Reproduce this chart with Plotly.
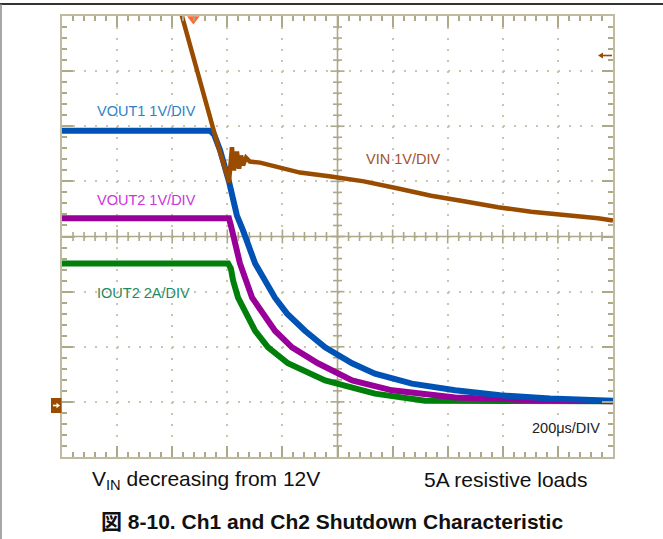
import plotly.graph_objects as go

# ---------------- data (time in µs, amplitude in screen divisions) ----------------
vout1_t = [0, 537, 552, 574, 606, 635, 657, 701, 773, 817, 882, 955, 1053, 1136, 1270, 1427, 1590, 1771, 2000]
vout1_y = [1.92, 1.92, 1.85, 1.56, 1.00, 0.38, 0.11, -0.49, -1.11, -1.40, -1.71, -2.01, -2.30, -2.49, -2.67, -2.79, -2.88, -2.94, -2.98]

vout2_t = [0, 606, 613, 646, 690, 773, 835, 929, 1053, 1198, 1427, 1662, 2000]
vout2_y = [0.33, 0.33, 0.20, -0.49, -1.11, -1.71, -2.01, -2.30, -2.61, -2.79, -2.92, -2.96, -2.99]

iout2_t = [0, 603, 613, 621, 639, 701, 748, 820, 955, 1136, 1318, 2000]
iout2_y = [-0.49, -0.49, -0.58, -0.80, -1.11, -1.71, -2.01, -2.30, -2.61, -2.85, -2.98, -2.99]

vin_t = [432, 501, 548, 566, 603, 606, 617, 624, 635, 643, 650, 657, 668, 682, 719, 791, 864,
         976, 1096, 1220, 1340, 1459, 1583, 1703, 1822, 1946, 2000]
vin_y = [4.06, 2.83, 1.92, 1.65, 1.05, 0.98, 1.62, 1.20, 1.54, 1.23, 1.47, 1.29, 1.43, 1.36, 1.34, 1.25, 1.16,
         1.09, 1.00, 0.87, 0.74, 0.64, 0.53, 0.45, 0.40, 0.33, 0.29]

channel_labels = ["VOUT1 1V/DIV", "VOUT2 1V/DIV", "VIN 1V/DIV", "IOUT2 2A/DIV"]
label_t = [120, 120, 1096, 120]
label_y = [2.27, 0.67, 1.415, -1.025]
timebase_label = "200μs/DIV"
caption_left = "V<sub>IN</sub> decreasing from 12V"
caption_right = "5A resistive loads"
title_text = "図 8-10. Ch1 and Ch2 Shutdown Characteristic"

trigger_time = 477
trigger_level = 3.27

# ---------------- styling ----------------
W, H = 663, 539
ML, MR, MT, MB = 62, 50, 16, 82
PLOT_W = W - ML - MR
PLOT_H = H - MT - MB
T_RANGE = [0, 2000]
Y_RANGE = [-4, 4]
px_t = PLOT_W / (T_RANGE[1] - T_RANGE[0])
px_y = PLOT_H / (Y_RANGE[1] - Y_RANGE[0])

FONT = "Liberation Sans, Arial, Noto Sans CJK JP, sans-serif"
TAN = "#BFBAA0"
TICK = "#ADA888"
DOT = "#C9C5AE"

C_VOUT1 = "#0052B4"
C_VOUT2 = "#990099"
C_IOUT2 = "#00800A"
C_VIN = "#994C00"
label_colors = ["#2E7FC6", "#CC33DD", "#A0522D", "#1F8A5F"]


def px_x(p):
    return (p - ML) / PLOT_W


def px_yp(p):
    return (H - MB - p) / PLOT_H


fig = go.Figure()

# centre cross with ticks (graticule decoration)
cx, cy = [], []
cx += [1000, 1000, None]; cy += [Y_RANGE[0], Y_RANGE[1], None]
cx += [T_RANGE[0], T_RANGE[1], None]; cy += [0, 0, None]
for k in range(1, 50):
    t = 40 * k
    h = (7 if k % 5 == 0 else 4.5) / px_y
    cx += [t, t, None]; cy += [-h, h, None]
for k in range(1, 40):
    v = -4 + 0.2 * k
    w = (7 if k % 5 == 0 else 4.5) / px_t
    cx += [1000 - w, 1000 + w, None]; cy += [v, v, None]
fig.add_trace(go.Scatter(x=cx, y=cy, mode="lines", line=dict(color=TICK, width=1.6),
                         hoverinfo="skip", showlegend=False))

# waveforms
fig.add_trace(go.Scatter(x=iout2_t, y=iout2_y, mode="lines", line=dict(color=C_IOUT2, width=6), showlegend=False))
fig.add_trace(go.Scatter(x=vout2_t, y=vout2_y, mode="lines", line=dict(color=C_VOUT2, width=6), showlegend=False))
fig.add_trace(go.Scatter(x=vout1_t, y=vout1_y, mode="lines", line=dict(color=C_VOUT1, width=6), showlegend=False))
fig.add_trace(go.Scatter(x=vin_t, y=vin_y, mode="lines", line=dict(color=C_VIN, width=4.5), showlegend=False))

# trigger position marker
fig.add_trace(go.Scatter(x=[trigger_time], y=[Y_RANGE[1] - 3 / px_y], mode="markers",
                         marker=dict(symbol="triangle-down", size=11, color="#FF6A33", line=dict(width=0)),
                         cliponaxis=False, showlegend=False, hoverinfo="skip"))

axis_common = dict(showline=True, linecolor=TAN, linewidth=2, mirror="allticks",
                   ticks="inside", ticklen=11, tickwidth=2, tickcolor=TICK,
                   showticklabels=False, zeroline=False,
                   showgrid=True, gridcolor=DOT, gridwidth=2, griddash="2px,9.02px")

fig.update_xaxes(range=T_RANGE, tick0=0, dtick=200,
                 minor=dict(ticks="inside", dtick=40, ticklen=5, tickwidth=2, tickcolor=TICK, showgrid=False),
                 **axis_common)
fig.update_yaxes(range=Y_RANGE, tick0=-4, dtick=1,
                 minor=dict(ticks="inside", dtick=0.2, ticklen=5, tickwidth=2, tickcolor=TICK, showgrid=False),
                 **axis_common)

annotations = []
for txt, t, y, col in zip(channel_labels, label_t, label_y, label_colors):
    annotations.append(dict(x=t, y=y, xref="x", yref="y", text=txt, showarrow=False,
                            xanchor="left", yanchor="middle", font=dict(family=FONT, size=14.5, color=col)))
annotations.append(dict(x=1699, y=-3.47, xref="x", yref="y", text=timebase_label, showarrow=False,
                        xanchor="left", yanchor="middle", font=dict(family=FONT, size=14.5, color="#222222")))
# captions
annotations.append(dict(x=px_x(206), y=px_yp(480), xref="paper", yref="paper",
                        text=caption_left, showarrow=False, xanchor="center", yanchor="middle",
                        font=dict(family=FONT, size=21, color="#111111")))
annotations.append(dict(x=px_x(505.5), y=px_yp(480), xref="paper", yref="paper",
                        text=caption_right, showarrow=False, xanchor="center", yanchor="middle",
                        font=dict(family=FONT, size=21, color="#111111")))
annotations.append(dict(x=px_x(332), y=px_yp(521.5), xref="paper", yref="paper",
                        text="<b>" + title_text + "</b>", showarrow=False, xanchor="center", yanchor="middle",
                        font=dict(family=FONT, size=21, color="#111111")))


def tri(x_tip, y_mid, dx, dy):
    # small triangle path in paper coords, tip at x_tip pointing in the sign of dx
    return (f"M {px_x(x_tip)},{px_yp(y_mid)} L {px_x(x_tip - dx)},{px_yp(y_mid - dy)} "
            f"L {px_x(x_tip - dx)},{px_yp(y_mid + dy)} Z")


shapes = [
    # page frame lines
    dict(type="line", xref="paper", yref="paper", x0=px_x(0), x1=px_x(W), y0=px_yp(4), y1=px_yp(4),
         line=dict(color="#333333", width=2)),
    dict(type="line", xref="paper", yref="paper", x0=px_x(1), x1=px_x(1), y0=px_yp(4), y1=px_yp(H),
         line=dict(color="#8A8A8A", width=1.5)),
    # channel ground marker
    dict(type="rect", xref="paper", yref="paper", x0=px_x(51), x1=px_x(61.5), y0=px_yp(413), y1=px_yp(398),
         fillcolor=C_VIN, line=dict(width=0)),
    dict(type="line", xref="paper", yref="paper", x0=px_x(53), x1=px_x(57), y0=px_yp(405.5), y1=px_yp(405.5),
         line=dict(color="white", width=1.6)),
    dict(type="path", xref="paper", yref="paper", path=tri(60, 405.5, 3.5, 2.8),
         fillcolor="white", line=dict(width=0)),
    # trigger level arrow (right edge)
    dict(type="line", xref="paper", yref="paper", x0=px_x(603), x1=px_x(612), y0=px_yp(55.5), y1=px_yp(55.5),
         line=dict(color=C_VIN, width=1.6)),
    dict(type="path", xref="paper", yref="paper", path=tri(598, 55.5, -5, 3),
         fillcolor=C_VIN, line=dict(width=0)),
]

fig.update_layout(width=W, height=H, margin=dict(l=ML, r=MR, t=MT, b=MB, pad=0),
                  paper_bgcolor="white", plot_bgcolor="white",
                  annotations=annotations, shapes=shapes, showlegend=False)

fig.write_html("out.html", config={"displayModeBar": False, "staticPlot": True},
               post_script="document.body.style.margin='0';")
